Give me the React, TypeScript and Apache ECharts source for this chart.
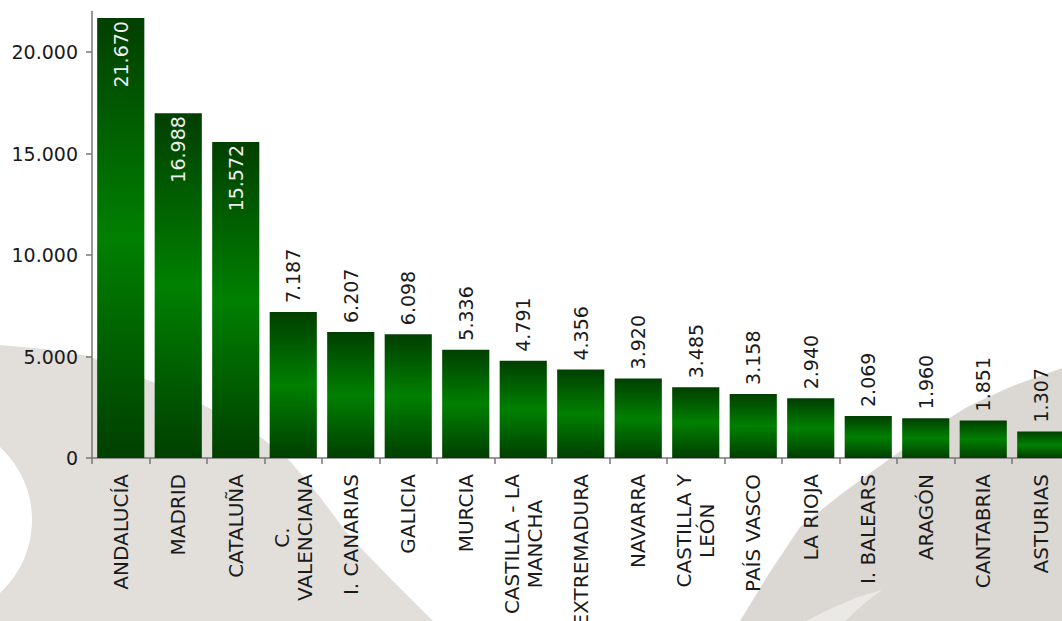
import React, { useEffect, useRef } from "react";
import * as echarts from "echarts";

const categories = [
  "ANDALUCÍA",
  "MADRID",
  "CATALUÑA",
  "C.\nVALENCIANA",
  "I. CANARIAS",
  "GALICIA",
  "MURCIA",
  "CASTILLA - LA\nMANCHA",
  "EXTREMADURA",
  "NAVARRA",
  "CASTILLA Y\nLEÓN",
  "PAÍS VASCO",
  "LA RIOJA",
  "I. BALEARS",
  "ARAGÓN",
  "CANTABRIA",
  "ASTURIAS",
];
const values = [21670, 16988, 15572, 7187, 6207, 6098, 5336, 4791, 4356, 3920, 3485, 3158, 2940, 2069, 1960, 1851, 1307];
const yTicks = [0, 5000, 10000, 15000, 20000];
const yMax = 22000;

const FONT = "DejaVu Sans";
const fmt = (v: number) => String(v).replace(/\B(?=(\d{3})+(?!\d))/g, ".");

export default function App() {
  const ref = useRef<HTMLDivElement>(null);
  useEffect(() => {
    if (!ref.current) return;
    const chart = echarts.init(ref.current, null, { renderer: "svg" });
    const barColor = new echarts.graphic.LinearGradient(0, 0, 0, 1, [
      { offset: 0, color: "#003f00" },
      { offset: 0.5, color: "#008000" },
      { offset: 1, color: "#003f00" },
    ]);
    const data = values.map((v) => {
      const inside = v > 10000;
      return {
        value: v,
        label: inside
          ? { position: "insideTop", distance: 3, align: "right", color: "#eeeeee" }
          : { position: "top", distance: 9, align: "left", color: "#1a1a1a" },
      };
    });
    chart.setOption({
      animation: false,
      backgroundColor: "transparent",
      graphic: [
        {
          type: "polygon",
          z: -10,
          silent: true,
          shape: {
            points: [
              [0, 345], [45, 349], [88, 356], [120, 369], [150, 381], [180, 393],
              [207, 407], [235, 421], [262, 438], [290, 461], [320, 497], [350, 537],
              [390, 578], [433, 621], [0, 621],
            ],
          },
          style: { fill: "#e2dfdb" },
        },
        {
          type: "circle",
          z: -9,
          silent: true,
          shape: { cx: -67, cy: 520, r: 99 },
          style: { fill: "#ffffff" },
        },
        {
          type: "polygon",
          z: -10,
          silent: true,
          shape: {
            points: [
              [740, 621], [770, 572], [800, 527], [840, 495], [877, 468], [920, 437],
              [967, 407], [1010, 387], [1062, 368], [1100, 360], [1100, 621],
            ],
          },
          style: { fill: "#dbd7d2" },
        },
        {
          type: "polygon",
          z: -9,
          silent: true,
          shape: {
            points: [
              [806, 621], [830, 609], [858, 597], [882, 590], [866, 602], [845, 621],
            ],
          },
          style: { fill: "#ebe9e6" },
        },
      ],
      grid: {
        left: 92,
        top: 11.4,
        width: 977.5,
        height: 446.6,
        outerBoundsMode: "none",
        containLabel: false,
      },
      xAxis: {
        type: "category",
        data: categories,
        axisLine: { show: true, lineStyle: { color: "#777777", width: 1.5 } },
        axisTick: { show: true, length: 6, lineStyle: { color: "#777777", width: 1.5 } },
        axisLabel: {
          rotate: 90,
          interval: 0,
          margin: 16,
          fontFamily: FONT,
          fontSize: 20,
          color: "#1a1a1a",
          lineHeight: 23,
          formatter: (v: string) =>
            v
              .split("\n")
              .map((l) => `{c|${l}}`)
              .join("\n"),
          rich: {
            c: {
              fontFamily: FONT,
              fontSize: 20,
              color: "#1a1a1a",
              lineHeight: 23,
              align: "center",
            },
          },
        },
      },
      yAxis: {
        type: "value",
        min: 0,
        max: yMax,
        splitLine: { show: false },
        axisLine: { show: true, lineStyle: { color: "#777777", width: 1.5 } },
        axisTick: { show: true, length: 6, customValues: yTicks, lineStyle: { color: "#777777", width: 1.5 } },
        axisLabel: {
          customValues: yTicks,
          margin: 14,
          fontFamily: FONT,
          fontSize: 19,
          color: "#1a1a1a",
          formatter: (v: number) => fmt(v),
        },
      },
      series: [
        {
          type: "bar",
          data,
          barCategoryGap: "18%",
          itemStyle: { color: barColor },
          label: {
            show: true,
            rotate: 90,
            verticalAlign: "middle",
            fontFamily: FONT,
            fontSize: 19,
            formatter: (p: any) => fmt(p.value),
          },
        },
      ],
    });
    return () => chart.dispose();
  }, []);
  return (
    <div style={{ position: "absolute", left: 0, top: 0, width: 1062, height: 621, overflow: "hidden", background: "#ffffff" }}>
      <div ref={ref} style={{ width: 1100, height: 621 }} />
    </div>
  );
}
